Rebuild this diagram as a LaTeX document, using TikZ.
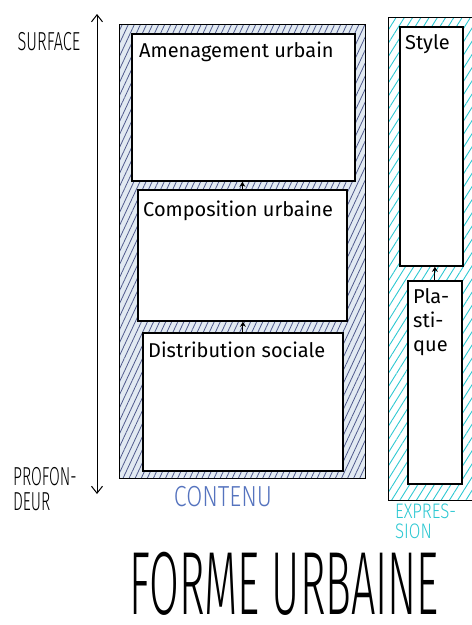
\documentclass[tikz,border=0pt]{standalone}
\usepackage{fontspec}
\setmainfont{Fira Sans}
\newfontfamily\thinfont{Fira Sans}[UprightFont={* Light}]
\usetikzlibrary{arrows.meta,patterns.meta,positioning}
\definecolor{hatchblue}{RGB}{80,90,140}
\definecolor{tintblue}{RGB}{226,234,242}
\definecolor{hatchcyan}{RGB}{45,200,210}
\definecolor{inkblue}{RGB}{85,115,190}

\begin{document}
\begin{tikzpicture}[x=1pt,y=-1pt,
  box/.style={draw=black,line width=1.8pt,fill=white,anchor=north west,inner sep=0pt},
  boxtext/.style={font=\fontsize{20}{24}\selectfont,inner sep=0pt,align=left},
  hand/.style={font=\thinfont\fontsize{26}{25}\selectfont,align=left,inner sep=0pt},
  link/.style={-{Stealth[length=5pt,width=6pt]},line width=1pt}]
\useasboundingbox (0,0) rectangle (472,625);
\clip (0,0) rectangle (472,625);
% cadre contenu
\fill[tintblue] (119,24) rectangle (365,478);
\pattern[pattern={Lines[angle=65,distance=5.5pt,line width=0.8pt]},pattern color=hatchblue]
  (119,24) rectangle (365,478);
\draw[line width=1pt] (119,24) rectangle (365,478);
% cadre expression
\pattern[pattern={Lines[angle=58,distance=7pt,line width=0.9pt]},pattern color=hatchcyan]
  (388,17) rectangle (490,500);
\draw[line width=1pt] (388,17) rectangle (490,500);

% niveaux du contenu
\node[box,minimum width=223pt,minimum height=147pt] (amenag) at (131,33) {};
\node[box,minimum width=209pt,minimum height=131pt] (compo) at (137,189) {};
\node[box,minimum width=200pt,minimum height=138pt] (distri) at (142,332) {};
\node[boxtext,below right=9pt and 8pt of amenag.north west] (amenagtxt) {Amenagement urbain};
\node[boxtext,below right=12pt and 6pt of compo.north west] (compotxt) {Composition urbaine};
\node[boxtext,below right=10pt and 6pt of distri.north west] (distritxt) {Distribution sociale};
\draw[link] (compo.north) -- (compo.north |- amenag.south);
\draw[link] (distri.north) -- (distri.north |- compo.south);

% niveaux de l'expression
\node[box,minimum width=63pt,minimum height=239pt] (style) at (399,26) {};
\node[box,minimum width=54pt,minimum height=203pt] (plast) at (407,280) {};
\node[boxtext,below right=8pt and 6pt of style.north west] (styletxt) {Style};
\node[boxtext,below right=8pt and 6pt of plast.north west] (plasttxt) {Pla-\\sti-\\que};
\draw[link] (plast.north) -- (plast.north |- style.south);

% axe surface / profondeur
\coordinate (axtop) at (97,14);
\coordinate (axbot) at (97,494);
\draw[{Straight Barb[length=7pt,width=11pt]}-{Straight Barb[length=7pt,width=11pt]},line width=1pt]
  (axtop) -- (axbot);
\node[hand,xscale=0.63] (surface) at (49,42) {SURFACE};
\node[hand,xscale=0.6,anchor=north west] (profond) at (13,467) {PROFON-\\DEUR};

% legendes
\node[hand,text=inkblue,font=\thinfont\fontsize{29}{29}\selectfont,xscale=0.8] (contenu) at (223,497) {CONTENU};
\node[hand,text=hatchcyan,anchor=north west,xscale=0.8,font=\thinfont\fontsize{21}{20}\selectfont] (expr) at (395,504) {EXPRES-\\SION};
\node[font=\thinfont\fontsize{80}{80}\selectfont,xscale=0.54,yscale=1.12,inner sep=0pt] (titre) at (284,584) {FORME URBAINE};
\end{tikzpicture}
\end{document}
